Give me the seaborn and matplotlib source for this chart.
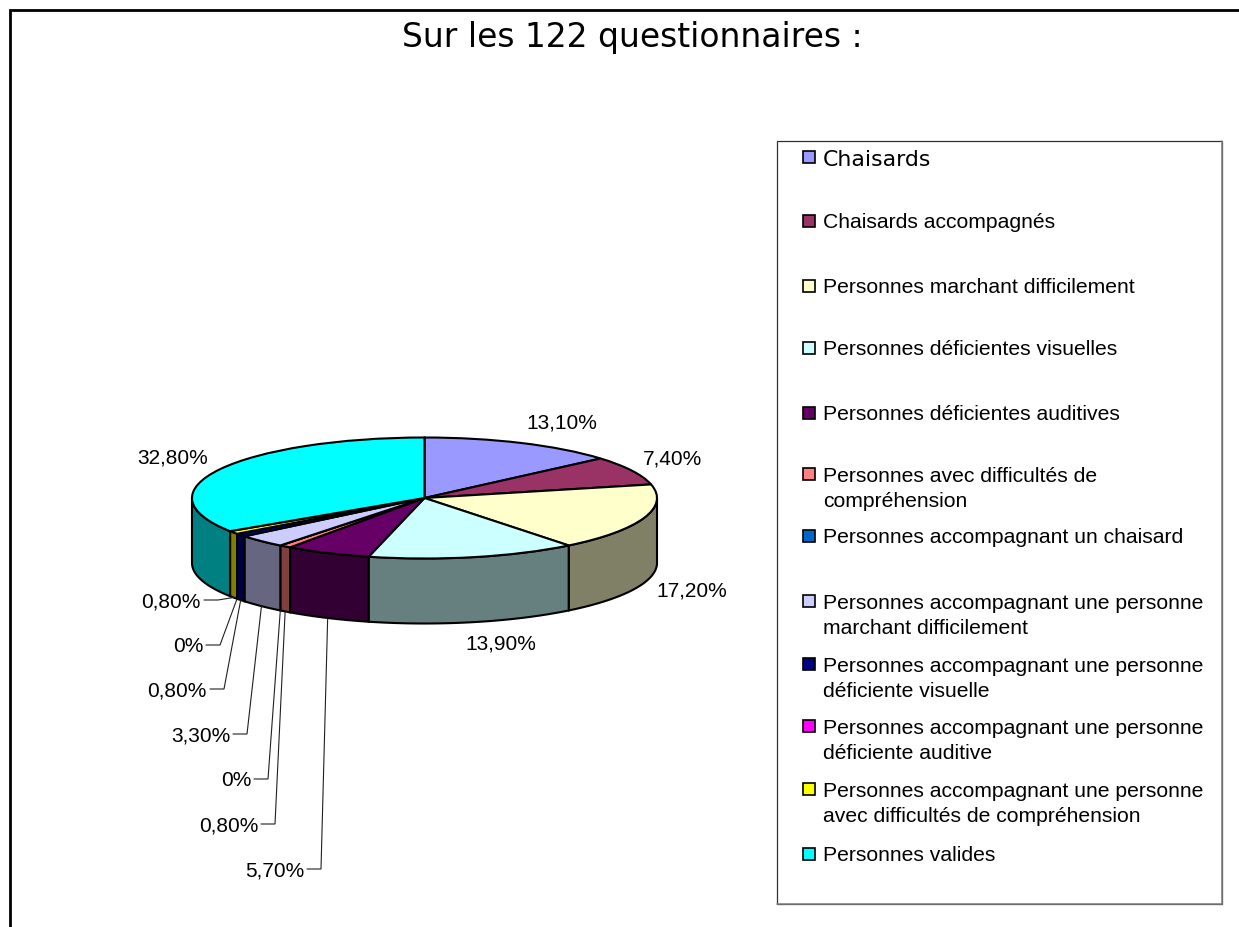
import numpy as np
import matplotlib
matplotlib.use("Agg")
import matplotlib.pyplot as plt
from matplotlib.colors import to_rgb
from matplotlib.patches import Polygon, Rectangle
import seaborn as sns

title = "Sur les 122 questionnaires :"
categories = [
    "Chaisards",
    "Chaisards accompagnés",
    "Personnes marchant difficilement",
    "Personnes déficientes visuelles",
    "Personnes déficientes auditives",
    "Personnes avec difficultés de\ncompréhension",
    "Personnes accompagnant un chaisard",
    "Personnes accompagnant une personne\nmarchant difficilement",
    "Personnes accompagnant une personne\ndéficiente visuelle",
    "Personnes accompagnant une personne\ndéficiente auditive",
    "Personnes accompagnant une personne\navec difficultés de compréhension",
    "Personnes valides",
]
values = [13.1, 7.4, 17.2, 13.9, 5.7, 0.8, 0, 3.3, 0.8, 0, 0.8, 32.8]
value_labels = ["13,10%", "7,40%", "17,20%", "13,90%", "5,70%", "0,80%",
                "0%", "3,30%", "0,80%", "0%", "0,80%", "32,80%"]
hex_colors = ["#9999FF", "#993366", "#FFFFCC", "#CCFFFF", "#660066", "#FF8080",
              "#0066CC", "#CCCCFF", "#000080", "#FF00FF", "#FFFF00", "#00FFFF"]

# ---- layout (pixels of the 1239x928 figure) ----
W, H = 1239, 928
CX, CY, RX, RY, DEPTH = 424.5, 499, 232.5, 60.5, 65
LEGEND_Y = [158, 222, 287, 349, 414, 475, 537, 602, 665, 727, 790, 855]
FREE_LABELS = {0: (562, 423), 1: (672, 459), 2: (692, 591), 3: (501, 644), 11: (173, 458)}
LEADER_LABELS = {10: (201, 602), 9: (203, 647), 8: (207, 691), 7: (230, 736),
                 6: (251, 781), 5: (258, 826), 4: (304, 871)}

sns.set_theme(style="white")
palette = sns.color_palette(hex_colors)
plt.rcParams["font.family"] = ["Liberation Sans", "DejaVu Sans"]

fig = plt.figure(figsize=(W / 100, H / 100), dpi=100, facecolor="white")

# overlay in pixel coordinates for frame, texts and legend
ov = fig.add_axes([0, 0, 1, 1], zorder=3)
ov.set_xlim(0, W)
ov.set_ylim(H, 0)
ov.axis("off")

# pie axes: one data unit = RX px horizontally, RY px vertically
pa = fig.add_axes([(CX - RX) / W, 1 - (CY + RY) / H, 2 * RX / W, 2 * RY / H], zorder=2)
wedges, _ = pa.pie(values, colors=palette, startangle=90, counterclock=False,
                   radius=1, wedgeprops=dict(edgecolor="black", linewidth=1.5, zorder=3))
pa.set_aspect("auto")
pa.set_xlim(-1, 1)
pa.set_ylim(-1, 1)
pa.axis("off")
for w in wedges:
    w.set_clip_on(False)

depth = DEPTH / RY
mids = []
for w, col in zip(wedges, palette):
    a, b = w.theta1, w.theta2
    mids.append(np.deg2rad((a + b) / 2))
    lo, hi = max(a, -180), min(b, 0)
    if hi - lo <= 0 or b - a <= 0:
        continue
    t = np.deg2rad(np.linspace(lo, hi, 80))
    x, y = np.cos(t), np.sin(t)
    verts = np.r_[np.c_[x, y], np.c_[x[::-1], y[::-1] - depth]]
    pa.add_patch(Polygon(verts, closed=True, clip_on=False, zorder=1,
                         facecolor=tuple(c * 0.5 for c in to_rgb(col)),
                         edgecolor="black", linewidth=1.5))

def rim_px(theta):
    """Point on the lower rim of the pie, in overlay coordinates."""
    disp = pa.transData.transform((np.cos(theta), np.sin(theta) - depth))
    return ov.transData.inverted().transform(disp)

FS = 15.0
for i, (x, y) in FREE_LABELS.items():
    ov.text(x, y, value_labels[i], ha="center", va="center", fontsize=FS, color="black")
for i, (x, y) in LEADER_LABELS.items():
    ov.text(x, y, value_labels[i], ha="right", va="center", fontsize=FS, color="black")
    ax_, ay_ = rim_px(mids[i])
    ov.plot([x + 3, x + 17, ax_], [y - 1, y - 1, ay_], color="#202020", lw=0.8,
            solid_joinstyle="miter", zorder=1)

# outer frame: only top and left sides
ov.plot([10, 10, W], [H, 11, 11], color="black", lw=2.0, solid_joinstyle="miter",
        clip_on=False)

ov.text(632, 37, title, ha="center", va="center", fontsize=23.65,
        family="DejaVu Sans", color="black")

# legend
ov.add_patch(Rectangle((777, 142), 445, 763, facecolor="none", edgecolor="#303030", lw=0.9))
ov.plot([1222, 1222, 777], [142, 905, 905], color="#808080", lw=1.1)
for i, (name, col, y) in enumerate(zip(categories, palette, LEGEND_Y)):
    ov.add_patch(Rectangle((803, y - 6), 12, 12, facecolor=col, edgecolor="black", lw=1.2))
    if i == 0:
        ov.text(823, y + 1.5, name, ha="left", va="center", fontsize=15.8,
                family="DejaVu Sans", color="black")
    else:
        ty = y + 14 if "\n" in name else y + 1
        ov.text(823, ty, name, ha="left", va="center", fontsize=15.2, color="black",
                linespacing=1.36)

fig.savefig("out.png", dpi=100, facecolor="white")
